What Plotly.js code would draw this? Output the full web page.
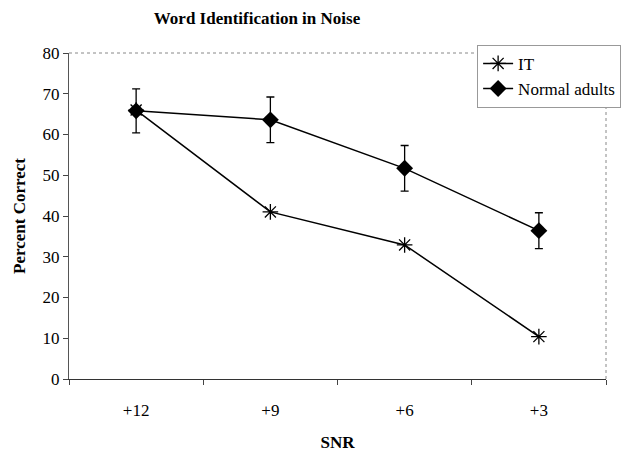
<!DOCTYPE html>
<html>
<head>
<meta charset="utf-8">
<script src="https://cdn.plot.ly/plotly-3.0.1.min.js"></script>
<style>html,body{margin:0;padding:0;background:#fff;}#chart{width:633px;height:453px;}</style>
</head>
<body>
<div id="chart"></div>
<script>
const snr = ["+12", "+9", "+6", "+3"];
const itValues = [66.0, 41.0, 32.9, 10.4];
const normalValues = [65.8, 63.6, 51.7, 36.4];
const normalErrors = [5.4, 5.6, 5.6, 4.4];

const FONT = "Liberation Serif";

const traces = [
  {
    x: snr, y: itValues, name: "IT", type: "scatter", mode: "lines+markers",
    line: {color: "#000", width: 1.5},
    marker: {symbol: "asterisk-open", size: 13, color: "#000", line: {color: "#000", width: 1.3}}
  },
  {
    x: snr, y: normalValues, name: "Normal adults", type: "scatter", mode: "lines+markers",
    line: {color: "#000", width: 1.5},
    marker: {symbol: "diamond", size: 13, color: "#000"},
    error_y: {type: "data", array: normalErrors, visible: true, color: "#000", thickness: 1.3, width: 4}
  }
];

const layout = {
  width: 633, height: 453,
  margin: {l: 69, r: 19, t: 53, b: 74},
  paper_bgcolor: "#fff", plot_bgcolor: "#fff",
  font: {family: FONT, size: 17, color: "#000"},
  title: {text: "<b>Word Identification in Noise</b>", font: {family: FONT, size: 17, color: "#000"}, x: 257/633, xanchor: "center", xref: "container", y: 1 - 18/453, yanchor: "middle", yref: "container"},
  showlegend: true,
  legend: {x: 0.76, y: 1.025, xanchor: "left", yanchor: "top", bgcolor: "#fff", bordercolor: "#999", borderwidth: 1, font: {family: FONT, size: 17, color: "#000"}, tracegroupgap: 0, itemwidth: 30},
  shapes: [
    {type: "line", xref: "paper", yref: "paper", x0: 0, x1: 1, y0: 1, y1: 1, line: {color: "#888", width: 1, dash: "dot"}, layer: "below"},
    {type: "line", xref: "paper", yref: "paper", x0: 1, x1: 1, y0: 0, y1: 1, line: {color: "#888", width: 1, dash: "dot"}, layer: "below"}
  ],
  xaxis: {
    type: "category", range: [-0.5, 3.5], autorange: false, automargin: false,
    tickson: "boundaries", ticks: "outside", ticklen: 5, tickcolor: "#444",
    showline: true, linecolor: "#333", linewidth: 1, mirror: false, showgrid: false, zeroline: false,
    tickfont: {family: FONT, size: 17, color: "#000"}, ticklabelstandoff: 16,
    title: {text: "<b>SNR</b>", font: {family: FONT, size: 17, color: "#000"}, standoff: 16}
  },
  yaxis: {
    range: [0, 80], autorange: false, automargin: false, dtick: 10, ticks: "outside", ticklen: 5, tickcolor: "#444",
    showline: true, linecolor: "#555", linewidth: 1, mirror: false, showgrid: false, zeroline: false,
    tickfont: {family: FONT, size: 17, color: "#000"},
    title: {text: "<b>Percent Correct</b>", font: {family: FONT, size: 17, color: "#000"}, standoff: 12}
  }
};

Plotly.newPlot("chart", traces, layout, {displayModeBar: false, staticPlot: true});
</script>
</body>
</html>
